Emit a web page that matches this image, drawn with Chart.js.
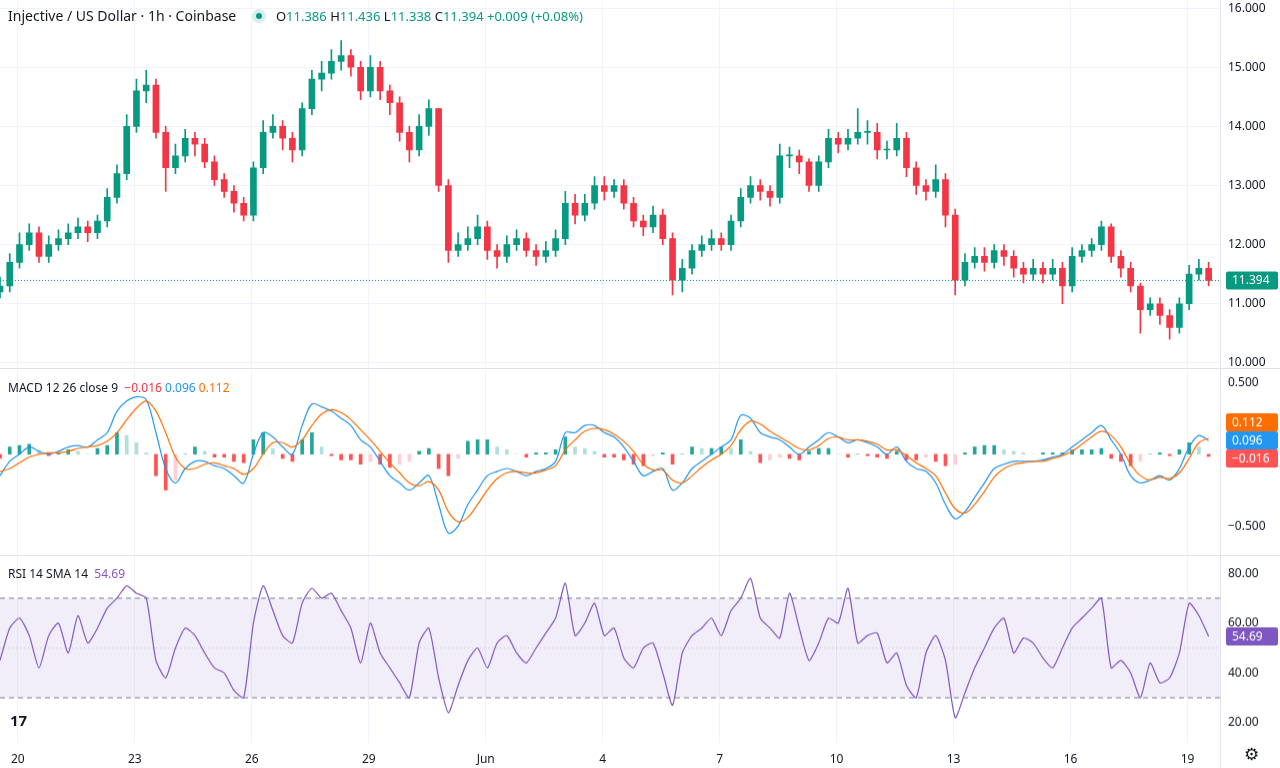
<!DOCTYPE html>
<html><head><meta charset="utf-8">
<script src="https://cdn.jsdelivr.net/npm/chart.js@4.4.1/dist/chart.umd.min.js"></script>
<style>
body{margin:0;width:1280px;height:768px;background:#fff;overflow:hidden;font-family:"Noto Sans",sans-serif;position:relative}
.pane{position:absolute;left:0;width:1280px}
.sep{position:absolute;left:0;width:1280px;height:1px;background:#e0e3eb}
.lg{position:absolute;left:8px;font-size:12px;color:#131722;white-space:nowrap}
</style></head><body>
<div class="pane" style="top:-13.6px;height:398px"><canvas id="c1"></canvas></div>
<div class="pane" style="top:355px;height:217.5px"><canvas id="c2"></canvas></div>
<div class="pane" style="top:542.8px;height:226.8px"><canvas id="c3"></canvas></div>
<div class="sep" style="top:368px"></div>
<div class="sep" style="top:555px"></div>
<div style="position:absolute;left:1220px;top:0;width:1px;height:768px;background:#e0e3eb"></div>
<div class="lg" style="top:6px;font-size:14px">Injective / US Dollar · 1h · Coinbase <span style="display:inline-block;width:14px;height:14px;border-radius:7px;background:#d6efec;vertical-align:-2px;margin:0 10px 0 12px;position:relative"><span style="position:absolute;left:4px;top:4px;width:6px;height:6px;border-radius:3px;background:#089981"></span></span><span style="font-size:13px">O<span style="color:#089981">11.386</span> H<span style="color:#089981">11.436</span> L<span style="color:#089981">11.338</span> C<span style="color:#089981">11.394 +0.009 (+0.08%)</span></span></div>
<div class="lg" style="top:379px">MACD 12 26 close 9 &nbsp;<span style="color:#f23645">−0.016</span> <span style="color:#2196f3">0.096</span> <span style="color:#ff6d00">0.112</span></div>
<div class="lg" style="top:565px">RSI 14 SMA 14 &nbsp;<span style="color:#7e57c2">54.69</span></div>
<div style="position:absolute;left:10px;top:710px;font:bold 15px 'Noto Sans';color:#131722">17</div>
<div style="position:absolute;left:1244px;top:742px;font-size:17px;color:#131722">⚙</div>
<script>
const dayLabels=['20','23','26','29','Jun','4','7','10','13','16','19'];
const dayTicks=[24,96,168,240,312,384,456,528,600,672,744];
const close=[11.3,11.7,12.0,12.2,11.8,12.0,12.1,12.2,12.3,12.2,
12.4,12.8,13.2,14.0,14.6,14.7,13.9,13.3,13.5,13.8,
13.7,13.4,13.1,12.9,12.7,12.5,13.3,13.9,14.0,13.8,
13.6,14.3,14.8,14.9,15.1,15.2,15.0,14.6,15.0,14.6,
14.4,13.9,13.6,14.0,14.3,13.0,11.9,12.0,12.1,12.3,
11.9,11.8,12.0,12.1,11.9,11.8,11.9,12.1,12.7,12.5,
12.7,13.0,12.9,13.0,12.7,12.4,12.3,12.5,12.1,11.4,
11.6,11.9,12.0,12.1,12.0,12.4,12.8,13.0,12.9,12.8,
13.5,13.5,13.4,13.0,13.4,13.8,13.7,13.8,13.9,13.9,
13.6,13.6,13.8,13.3,13.0,12.9,13.1,12.5,11.4,11.7,
11.8,11.7,11.9,11.8,11.6,11.5,11.6,11.5,11.6,11.3,
11.8,11.9,12.0,12.3,11.8,11.6,11.3,10.9,11.0,10.8,
10.6,11.0,11.5,11.6,11.394];
const high=[11.45,11.85,12.2,12.35,12.3,12.15,12.25,12.35,12.45,12.4,
12.5,12.95,13.35,14.2,14.8,14.95,14.8,14.0,13.7,13.95,
13.9,13.8,13.5,13.2,13.0,12.8,13.4,14.1,14.2,14.1,
13.9,14.4,14.95,15.1,15.3,15.45,15.3,15.1,15.2,15.1,
14.7,14.5,14.0,14.2,14.45,14.3,13.1,12.2,12.3,12.5,
12.4,12.0,12.15,12.25,12.2,12.0,12.05,12.25,12.9,12.85,
12.85,13.15,13.15,13.1,13.1,12.8,12.5,12.65,12.6,12.2,
11.75,12.0,12.15,12.25,12.2,12.5,12.95,13.15,13.1,13.0,
13.7,13.65,13.6,13.45,13.5,13.95,13.9,13.95,14.3,14.1,
14.05,13.75,14.05,13.9,13.4,13.1,13.35,13.2,12.6,11.85,
11.95,11.95,12.0,12.0,11.9,11.7,11.75,11.7,11.75,11.7,
11.95,12.0,12.1,12.4,12.35,11.9,11.7,11.35,11.1,11.1,
10.9,11.1,11.65,11.75,11.7];
const low=[11.1,11.2,11.6,11.9,11.7,11.7,11.9,12.0,12.1,12.05,
12.1,12.3,12.7,13.1,13.9,14.4,13.8,12.9,13.2,13.4,
13.5,13.3,13.0,12.8,12.55,12.4,12.4,13.2,13.8,13.6,
13.4,13.5,14.2,14.6,14.8,14.95,14.85,14.45,14.5,14.45,
14.2,13.75,13.4,13.5,13.85,12.9,11.7,11.8,11.9,12.0,
11.75,11.6,11.7,11.9,11.8,11.65,11.7,11.8,12.0,12.35,
12.4,12.6,12.75,12.8,12.6,12.3,12.15,12.2,12.0,11.15,
11.2,11.5,11.8,11.9,11.9,11.9,12.3,12.7,12.75,12.65,
12.7,13.3,13.2,12.9,12.9,13.3,13.55,13.6,13.7,13.7,
13.45,13.45,13.5,13.15,12.85,12.75,12.8,12.3,11.15,11.3,
11.6,11.55,11.6,11.65,11.45,11.35,11.4,11.35,11.4,11.0,
11.2,11.7,11.8,11.9,11.7,11.45,11.2,10.5,10.8,10.65,
10.4,10.5,10.9,11.4,11.3];
const firstOpen=11.2;
const macd=[-0.15,-0.05,0.0,0.05,0.02,0.0,0.02,0.05,0.06,0.05,
0.1,0.15,0.3,0.37,0.4,0.38,0.15,-0.1,-0.2,-0.1,
-0.05,-0.05,-0.08,-0.1,-0.15,-0.2,0.0,0.15,0.12,0.05,
0.0,0.2,0.35,0.33,0.3,0.25,0.2,0.1,0.05,-0.05,
-0.15,-0.2,-0.25,-0.2,-0.15,-0.35,-0.55,-0.5,-0.35,-0.25,
-0.15,-0.12,-0.1,-0.12,-0.15,-0.12,-0.1,-0.05,0.15,0.15,
0.2,0.2,0.15,0.12,0.05,-0.05,-0.15,-0.12,-0.1,-0.25,
-0.2,-0.1,-0.05,0.0,0.05,0.1,0.27,0.25,0.15,0.12,
0.1,0.05,0.0,0.05,0.1,0.15,0.12,0.08,0.1,0.08,
0.05,0.0,0.05,-0.05,-0.1,-0.12,-0.2,-0.35,-0.45,-0.4,
-0.3,-0.2,-0.1,-0.07,-0.05,-0.05,-0.05,-0.04,-0.02,0.0,
0.05,0.1,0.15,0.2,0.1,0.0,-0.15,-0.2,-0.18,-0.15,
-0.18,-0.1,0.05,0.13,0.096];
const signal=[-0.12,-0.1,-0.06,-0.02,0.0,0.01,0.01,0.02,0.04,0.05,
0.06,0.09,0.15,0.24,0.32,0.37,0.3,0.15,-0.02,-0.1,
-0.1,-0.07,-0.06,-0.08,-0.1,-0.14,-0.1,0.0,0.08,0.08,
0.05,0.1,0.2,0.28,0.31,0.29,0.24,0.17,0.1,0.02,
-0.06,-0.13,-0.2,-0.22,-0.19,-0.25,-0.4,-0.47,-0.44,-0.35,
-0.25,-0.17,-0.13,-0.12,-0.13,-0.13,-0.11,-0.08,0.03,0.1,
0.16,0.18,0.17,0.14,0.09,0.02,-0.07,-0.11,-0.11,-0.18,
-0.2,-0.15,-0.09,-0.04,0.0,0.06,0.17,0.23,0.21,0.16,
0.12,0.08,0.04,0.03,0.06,0.11,0.12,0.1,0.1,0.09,
0.07,0.03,0.03,-0.01,-0.06,-0.1,-0.15,-0.27,-0.38,-0.41,
-0.35,-0.26,-0.16,-0.1,-0.07,-0.06,-0.05,-0.05,-0.03,-0.01,
0.02,0.07,0.12,0.16,0.13,0.05,-0.07,-0.15,-0.18,-0.16,
-0.17,-0.13,-0.03,0.08,0.112];
const rsi=[45,58,62,55,42,55,60,48,63,52,
58,66,70,75,72,70,45,38,50,58,
55,48,42,40,33,30,60,75,65,55,
52,68,74,70,72,65,58,44,60,48,
42,36,30,52,58,38,24,35,45,50,
42,52,55,48,44,50,56,62,76,55,
60,68,55,58,46,42,50,52,40,27,
48,55,58,62,55,65,70,78,62,58,
54,72,58,45,52,62,60,74,52,55,
56,44,48,35,30,48,55,45,22,32,
42,50,58,62,48,54,52,46,42,50,
58,62,66,70,42,45,40,30,44,36,
38,48,68,63,54.69];
const START_H=13, STEP_H=6;

const t=close.map((_,i)=>START_H+STEP_H*i);
const open=close.map((c,i)=>i?close[i-1]:firstOpen);
const UP='#089981',DN='#f23645';
const cCol=close.map((c,i)=>c>=open[i]?UP:DN);
const GRID='#f0f3fa';
Chart.defaults.animation=false;
Chart.defaults.font={family:'Noto Sans',size:12};
Chart.defaults.color='#131722';

function xScale(showLabels){
  return {type:'linear',min:13,max:764,offset:false,
    afterBuildTicks:s=>{s.ticks=dayTicks.map(v=>({value:v}));},
    afterFit:s=>{s.height=showLabels?28:0;},
    grid:{color:GRID,drawTicks:false,offset:false},border:{display:false},
    ticks:{display:showLabels,padding:10,maxRotation:0,autoSkip:false,
      callback:(v)=>dayLabels[dayTicks.indexOf(v)]}};
}
function yScale(min,max,ticks,fmt,grid){
  return {position:'right',min,max,
    afterBuildTicks:s=>{s.ticks=ticks.map(v=>({value:v}));},
    afterFit:s=>{s.width=60;},
    grid:{color:grid?GRID:'rgba(0,0,0,0)',drawTicks:false},border:{display:false},
    ticks:{padding:8,callback:fmt}};
}
function tag(ctx,area,y,text,bg){
  ctx.save();ctx.fillStyle=bg;
  ctx.beginPath();ctx.roundRect(area.right+6,y-9,52,18,2);ctx.fill();
  ctx.fillStyle='#fff';ctx.font='12px Noto Sans';ctx.textBaseline='middle';
  ctx.fillText(text,area.right+12,y+0.5);ctx.restore();
}
const common={responsive:true,maintainAspectRatio:false,layout:{padding:0,autoPadding:false},
  plugins:{legend:{display:false},tooltip:{enabled:false}}};

new Chart(document.getElementById('c1'),{
  type:'bar',
  data:{datasets:[
    {data:t.map((x,i)=>({x,y:[low[i],high[i]]})),backgroundColor:cCol,barThickness:1,grouped:false,order:2},
    {data:t.map((x,i)=>({x,y:[open[i],close[i]]})),backgroundColor:cCol,barThickness:6,grouped:false,minBarLength:1,order:1}
  ]},
  options:{...common,scales:{x:xScale(false),
    y:yScale(9.899,16.118,[10,11,12,13,14,15,16],v=>v.toFixed(3),true)}},
  plugins:[{id:'last',afterDatasetsDraw(ch){
    const {ctx,chartArea:a}=ch;const y=ch.scales.y.getPixelForValue(close[close.length-1]);
    ctx.save();ctx.strokeStyle=UP;ctx.setLineDash([1,2]);ctx.beginPath();ctx.moveTo(a.left,y);ctx.lineTo(a.right,y);ctx.stroke();ctx.restore();
    tag(ctx,a,y,close[close.length-1].toFixed(3),UP);
  }}]
});

const hist=macd.map((m,i)=>+(m-signal[i]).toFixed(3));
const hCol=hist.map((h,i)=>{const p=i?hist[i-1]:0;return h>=0?(h>=p?'#26a69a':'#b2dfdb'):(h<=p?'#ff5252':'#ffcdd2');});
new Chart(document.getElementById('c2'),{
  type:'bar',
  data:{datasets:[
    {type:'line',data:t.map((x,i)=>({x,y:macd[i]})),borderColor:'#2196f3',borderWidth:1.2,pointRadius:0,tension:0.35,order:1},
    {type:'line',data:t.map((x,i)=>({x,y:signal[i]})),borderColor:'#ff6d00',borderWidth:1.2,pointRadius:0,tension:0.35,order:0},
    {data:t.map((x,i)=>({x,y:hist[i]})),backgroundColor:hCol,barThickness:3,grouped:false,order:2}
  ]},
  options:{...common,scales:{x:xScale(false),
    y:yScale(-0.725,0.5845,[-0.5,0.5],v=>(v<0?'−':'')+Math.abs(v).toFixed(3),false)}},
  plugins:[{id:'tags',afterDatasetsDraw(ch){
    const {ctx,chartArea:a}=ch;const ys=ch.scales.y;const n=macd.length-1;
    let y1=ys.getPixelForValue(signal[n]),y2=ys.getPixelForValue(macd[n]),y3=ys.getPixelForValue(hist[n]);
    y1=Math.min(y1,y2-18);y2=Math.max(y2,y1+18);y3=Math.max(y3,y2+18);
    tag(ctx,a,y1,signal[n].toFixed(3),'#ff6d00');
    tag(ctx,a,y2,macd[n].toFixed(3),'#2196f3');
    tag(ctx,a,y3,'−'+Math.abs(hist[n]).toFixed(3),'#ff5252');
  }}]
});

new Chart(document.getElementById('c3'),{
  type:'line',
  data:{datasets:[{data:t.map((x,i)=>({x,y:rsi[i]})),borderColor:'#7e57c2',borderWidth:1.2,pointRadius:0,tension:0.2}]},
  options:{...common,scales:{x:xScale(true),
    y:yScale(11.95,86.04,[20,40,60,80],v=>v.toFixed(2),false)}},
  plugins:[{id:'band',beforeDatasetsDraw(ch){
    const {ctx,chartArea:a}=ch;const ys=ch.scales.y;
    const y70=ys.getPixelForValue(70),y30=ys.getPixelForValue(30),y50=ys.getPixelForValue(50);
    ctx.save();ctx.fillStyle='rgba(126,87,194,0.1)';ctx.fillRect(a.left,y70,a.right-a.left,y30-y70);
    ctx.strokeStyle='#787b86';ctx.setLineDash([5,4]);ctx.lineWidth=1;
    [y70,y30].forEach(y=>{ctx.beginPath();ctx.moveTo(a.left,y);ctx.lineTo(a.right,y);ctx.stroke();});
    ctx.strokeStyle='rgba(120,123,134,0.35)';ctx.setLineDash([1,3]);
    ctx.beginPath();ctx.moveTo(a.left,y50);ctx.lineTo(a.right,y50);ctx.stroke();
    ctx.restore();
  },afterDatasetsDraw(ch){
    const {ctx,chartArea:a}=ch;const n=rsi.length-1;
    tag(ctx,a,ch.scales.y.getPixelForValue(rsi[n]),rsi[n].toFixed(2),'#7e57c2');
  }}]
});
</script></body></html>
